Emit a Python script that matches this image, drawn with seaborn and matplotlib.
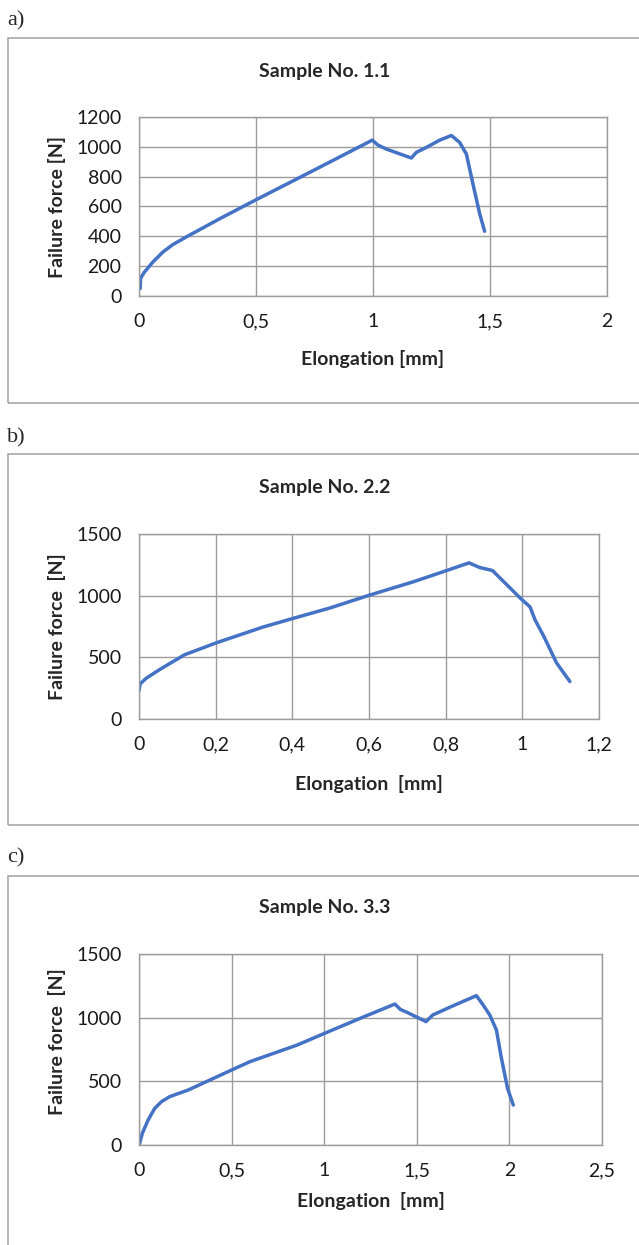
import matplotlib
matplotlib.use("Agg")
import matplotlib.pyplot as plt
import matplotlib.patches as mpatches
from matplotlib.ticker import FuncFormatter
import pandas as pd
import seaborn as sns

# Sample No. 1.1
elong_a = [0.005, 0.007, 0.024, 0.06, 0.103, 0.145, 0.202, 0.345, 0.5, 0.772,
           0.997, 1.021, 1.057, 1.164, 1.185, 1.228, 1.285, 1.335, 1.37, 1.399,
           1.427, 1.456, 1.477]
force_a = [50, 120, 162, 229, 296, 345, 396, 518, 645, 863,
           1045, 1012, 985, 925, 963, 996, 1045, 1076, 1030, 952,
           752, 551, 434]

# Sample No. 2.2
elong_b = [0.0, 0.003, 0.019, 0.054, 0.089, 0.119, 0.202, 0.324, 0.40, 0.498,
           0.60, 0.715, 0.80, 0.861, 0.888, 0.922, 0.959, 0.994, 1.020, 1.033,
           1.057, 1.089, 1.124]
force_b = [230, 285, 331, 401, 466, 521, 618, 746, 814, 900,
           1003, 1112, 1201, 1266, 1229, 1204, 1090, 982, 909, 805,
           664, 456, 304]

# Sample No. 3.3
elong_c = [0.003, 0.018, 0.049, 0.085, 0.121, 0.166, 0.266, 0.384, 0.5, 0.6,
           0.854, 1.002, 1.216, 1.382, 1.411, 1.451, 1.55, 1.586, 1.686, 1.822,
           1.858, 1.894, 1.93, 1.957, 1.99, 2.021]
force_c = [10, 92, 196, 288, 340, 380, 432, 511, 589, 655,
           785, 877, 1008, 1107, 1065, 1039, 969, 1021, 1087, 1173,
           1100, 1021, 903, 681, 445, 314]

xticks_a = [0, 0.5, 1, 1.5, 2]
yticks_a = [0, 200, 400, 600, 800, 1000, 1200]
xticks_b = [0, 0.2, 0.4, 0.6, 0.8, 1, 1.2]
yticks_b = [0, 500, 1000, 1500]
xticks_c = [0, 0.5, 1, 1.5, 2, 2.5]
yticks_c = [0, 500, 1000, 1500]

sns.set_style("white")
plt.rcParams['font.family'] = ['Lato', 'DejaVu Sans']

W, H = 639, 1245
fig = plt.figure(figsize=(W / 100, H / 100), dpi=100)


def fx(px):
    return px / W


def fy(py):
    return 1 - py / H


grid_col = '#9c9c9c'
line_col = '#4472C4'
comma = FuncFormatter(lambda v, p: ('%g' % v).replace('.', ','))

panels = [
    dict(letter='a)', title='Sample No. 1.1', xlabel='Elongation [mm]', ylabel='Failure force [N]',
         x=elong_a, y=force_a, xt=xticks_a, yt=yticks_a,
         box=(38, 403), letter_y=21, title_y=72, plot=(139, 607, 117, 296),
         xlabel_y=359, ylabel_y=207),
    dict(letter='b)', title='Sample No. 2.2', xlabel='Elongation  [mm]', ylabel='Failure force  [N]',
         x=elong_b, y=force_b, xt=xticks_b, yt=yticks_b,
         box=(454, 825), letter_y=438, title_y=488, plot=(139, 599, 534, 719),
         xlabel_y=784, ylabel_y=627),
    dict(letter='c)', title='Sample No. 3.3', xlabel='Elongation  [mm]', ylabel='Failure force  [N]',
         x=elong_c, y=force_c, xt=xticks_c, yt=yticks_c,
         box=(876, 1300), letter_y=858, title_y=908, plot=(139, 602, 954, 1145),
         xlabel_y=1201, ylabel_y=1042),
]

for p in panels:
    top, bottom = p['box']
    fig.patches.append(mpatches.Rectangle((fx(8), fy(bottom)), fx(700), (bottom - top) / H,
                                          transform=fig.transFigure, fill=False,
                                          edgecolor='#a0a0a0', linewidth=1.1))
    fig.text(fx(7), fy(p['letter_y']), p['letter'], family='Liberation Serif',
             fontsize=16, ha='left', va='center')
    fig.text(fx(325), fy(p['title_y']), p['title'], fontsize=14, fontweight='bold',
             ha='center', va='center')

    x0, x1, y0, y1 = p['plot']
    ax = fig.add_axes([fx(x0), fy(y1), (x1 - x0) / W, (y1 - y0) / H])
    df = pd.DataFrame({'elong': p['x'], 'force': p['y']})
    sns.lineplot(data=df, x='elong', y='force', ax=ax, sort=False, color=line_col,
                 linewidth=2.5, solid_capstyle='round', solid_joinstyle='round')
    ax.set_xlim(p['xt'][0], p['xt'][-1])
    ax.set_ylim(p['yt'][0], p['yt'][-1])
    ax.set_xticks(p['xt'])
    ax.set_yticks(p['yt'])
    ax.xaxis.set_major_formatter(comma)
    ax.grid(True, color=grid_col, linewidth=1.0)
    ax.set_axisbelow(True)
    for s in ax.spines.values():
        s.set_color(grid_col)
        s.set_linewidth(1.0)
    ax.tick_params(axis='both', direction='out', length=4.5, width=1.0, color=grid_col,
                   labelsize=14, labelcolor='#1a1a1a')
    ax.tick_params(axis='x', pad=8)
    ax.tick_params(axis='y', pad=8)
    ax.set_xlabel('')
    ax.set_ylabel('')

    fig.text(fx((x0 + x1) / 2), fy(p['xlabel_y']), p['xlabel'], fontsize=14,
             fontweight='bold', ha='center', va='center')
    fig.text(fx(57), fy(p['ylabel_y']), p['ylabel'], fontsize=14, fontweight='bold',
             rotation=90, ha='center', va='center')

fig.savefig('out.png', dpi=100)
